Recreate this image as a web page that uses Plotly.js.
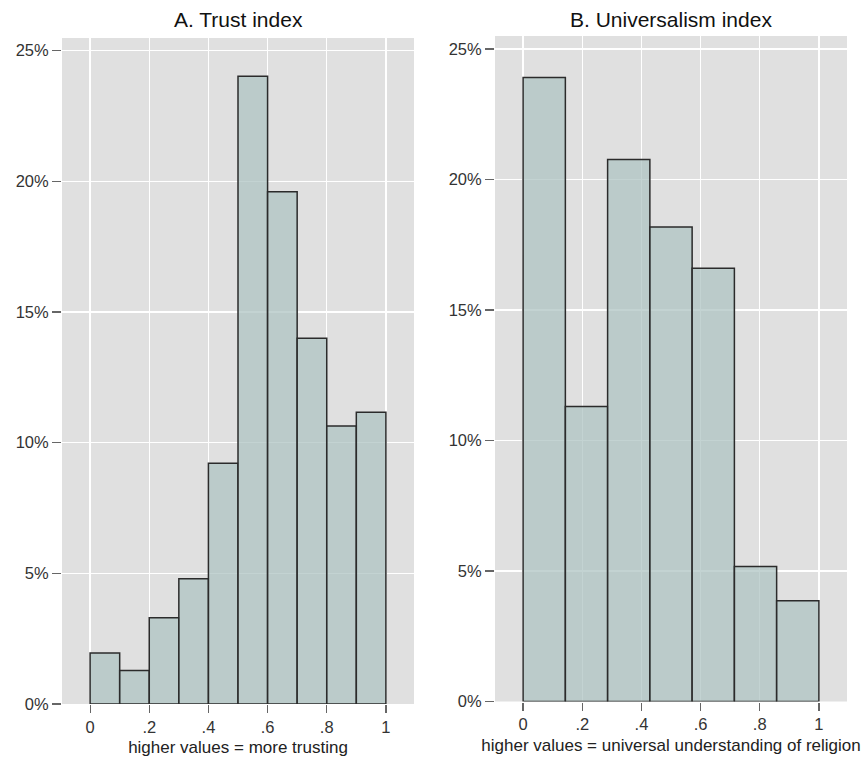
<!DOCTYPE html>
<html>
<head>
<meta charset="utf-8">
<script src="https://cdn.plot.ly/plotly-3.0.1.min.js"></script>
<style>html,body{margin:0;padding:0;background:#fff;}#chart{width:863px;height:761px;}</style>
</head>
<body>
<div id="chart"></div>
<script>
// Panel A: Trust index (bin edges and percent per bin)
const trustEdges = [0, 0.1, 0.2, 0.3, 0.4, 0.5, 0.6, 0.7, 0.8, 0.9, 1.0];
const trustPct = [1.95, 1.28, 3.30, 4.79, 9.21, 24.02, 19.6, 13.99, 10.64, 11.16];
// Panel B: Universalism index
const univEdges = [0, 0.142857, 0.285714, 0.428571, 0.571429, 0.714286, 0.857143, 1.0];
const univPct = [23.91, 11.30, 20.77, 18.18, 16.6, 5.17, 3.86];

const xTickVals = [0, 0.2, 0.4, 0.6, 0.8, 1];
const xTickText = ["0", ".2", ".4", ".6", ".8", "1"];
const yTickVals = [0, 5, 10, 15, 20, 25];
const yTickText = ["0%", "5%", "10%", "15%", "20%", "25%"];

const titles = ["A. Trust index", "B. Universalism index"];
const xTitles = ["higher values = more trusting", "higher values = universal understanding of religion"];

function barTrace(edges, pct, xa, ya) {
  const mids = [], widths = [];
  for (let i = 0; i < pct.length; i++) {
    mids.push((edges[i] + edges[i + 1]) / 2);
    widths.push(edges[i + 1] - edges[i]);
  }
  return {
    type: 'bar', x: mids, y: pct, width: widths,
    xaxis: xa, yaxis: ya,
    marker: { color: 'rgba(172,194,193,0.72)', line: { color: '#2b2b2b', width: 1.5 } },
    hoverinfo: 'skip', showlegend: false
  };
}

const W = 863, H = 761;
const fontFam = 'Liberation Sans, Arial, sans-serif';
function xa(domain, anchor, title) {
  return {
    domain: domain, anchor: anchor, range: [-0.095, 1.095],
    tickvals: xTickVals, ticktext: xTickText,
    ticks: 'outside', ticklen: 8, tickwidth: 1.2, tickcolor: '#666',
    showgrid: true, gridcolor: '#ffffff', gridwidth: 1.3, zeroline: false, showline: false,
    tickfont: { family: fontFam, size: 16.5, color: '#333' },
    title: { text: title, font: { family: fontFam, size: 17, color: '#222' }, standoff: 6 },
    fixedrange: true
  };
}
function ya(domain, anchor, range) {
  return {
    domain: domain, anchor: anchor, range: range,
    tickvals: yTickVals, ticktext: yTickText,
    ticks: 'outside', ticklen: 9, tickwidth: 1.2, tickcolor: '#666',
    showgrid: true, gridcolor: '#ffffff', gridwidth: 1.3, zeroline: false, showline: false,
    tickfont: { family: fontFam, size: 16.5, color: '#333' },
    fixedrange: true
  };
}

const layout = {
  width: W, height: H,
  margin: { l: 0, r: 0, t: 0, b: 0 },
  paper_bgcolor: '#ffffff', plot_bgcolor: '#e0e0e0',
  font: { family: fontFam },
  bargap: 0,
  xaxis: xa([62 / W, 414 / W], 'y', xTitles[0]),
  yaxis: ya([1 - 704 / H, 1 - 38 / H], 'x', [0, 25.48]),
  xaxis2: xa([495 / W, 847 / W], 'y2', xTitles[1]),
  yaxis2: ya([1 - 701.5 / H, 1 - 36 / H], 'x2', [0, 25.5]),
  annotations: [
    { text: titles[0], xref: 'paper', yref: 'paper', x: 238 / W, y: 1 - 20 / H, xanchor: 'center', yanchor: 'middle', showarrow: false, font: { family: fontFam, size: 21, color: '#111' } },
    { text: titles[1], xref: 'paper', yref: 'paper', x: 671 / W, y: 1 - 20 / H, xanchor: 'center', yanchor: 'middle', showarrow: false, font: { family: fontFam, size: 21, color: '#111' } }
  ]
};

Plotly.newPlot('chart', [
  barTrace(trustEdges, trustPct, 'x', 'y'),
  barTrace(univEdges, univPct, 'x2', 'y2')
], layout, { displayModeBar: false, staticPlot: true });
</script>
</body>
</html>
